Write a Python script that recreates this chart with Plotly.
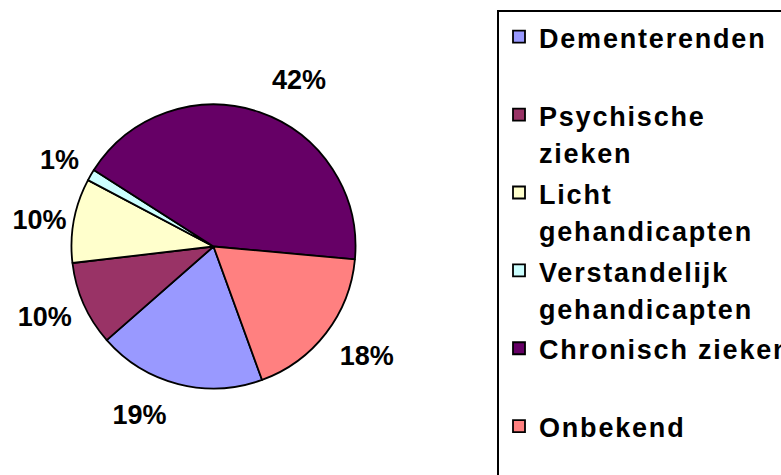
import plotly.graph_objects as go

# ---- data -------------------------------------------------------------
categories = ["Dementerenden", "Psychische zieken", "Licht gehandicapten",
              "Verstandelijk gehandicapten", "Chronisch zieken", "Onbekend"]
category_lines = [["Dementerenden"], ["Psychische", "zieken"], ["Licht", "gehandicapten"],
                  ["Verstandelijk", "gehandicapten"], ["Chronisch zieken"], ["Onbekend"]]
shares = [19.1, 9.6, 9.6, 1.3, 42.4, 18.0]
colors = ["#9999FF", "#993366", "#FFFFCC", "#CCFFFF", "#660066", "#FF8080"]

# ---- style: label padding (blank lines push outside labels away) -------
pad_above = [1, 1, 0, 0, 0, 1]
pad_below = [0, 0, 0, 1, 1, 0]
pad_size = [18.5, 19.1, 27, 15.6, 16.8, 22.5]

# ---- layout constants -------------------------------------------------
W, H = 781, 475
FONT = "Arial, 'Liberation Sans', sans-serif"
cx, cy, r = 213.5, 246.5, 142.0
BLANK = "\u00a0"


def legend_label(lines, n_lines=2):
    spans = [f"<span style='font-size:27px;letter-spacing:1.8px'>{t}</span>" for t in lines]
    while len(spans) < n_lines:
        spans.append(BLANK)
    return "<br>".join(spans)


def pct_template(above, below):
    core = "<span style='font-size:27px'>%{percent:.0%}</span>"
    return "<br>".join([BLANK] * above + [core] + [BLANK] * below)


labels = [legend_label(l) for l in category_lines]
templates = [pct_template(a, b) for a, b in zip(pad_above, pad_below)]

fig = go.Figure(go.Pie(
    labels=labels,
    values=shares,
    customdata=categories,
    sort=False,
    direction="clockwise",
    rotation=160,
    marker=dict(colors=colors, line=dict(color="black", width=1.8)),
    textposition="outside",
    texttemplate=templates,
    textfont=dict(family=FONT, size=pad_size, color="black", weight="bold"),
    hovertemplate="%{customdata}: %{percent}<extra></extra>",
    domain=dict(x=[(cx - r) / W, (cx + r) / W],
                y=[(H - cy - r) / H, (H - cy + r) / H]),
))

fig.update_layout(
    width=W, height=H,
    margin=dict(l=0, r=0, t=0, b=0, autoexpand=False),
    paper_bgcolor="white", plot_bgcolor="white",
    showlegend=True,
    legend=dict(
        x=497 / W, y=(H - 9.5) / H, xanchor="left", yanchor="top",
        bordercolor="black", borderwidth=2, bgcolor="white",
        font=dict(family=FONT, size=28.8, color="black", weight="bold"),
        valign="top", traceorder="normal", maxheight=700,
    ),
)

fig.write_html("out.html", config={"displayModeBar": False},
               post_script="document.body.style.margin='0';")
